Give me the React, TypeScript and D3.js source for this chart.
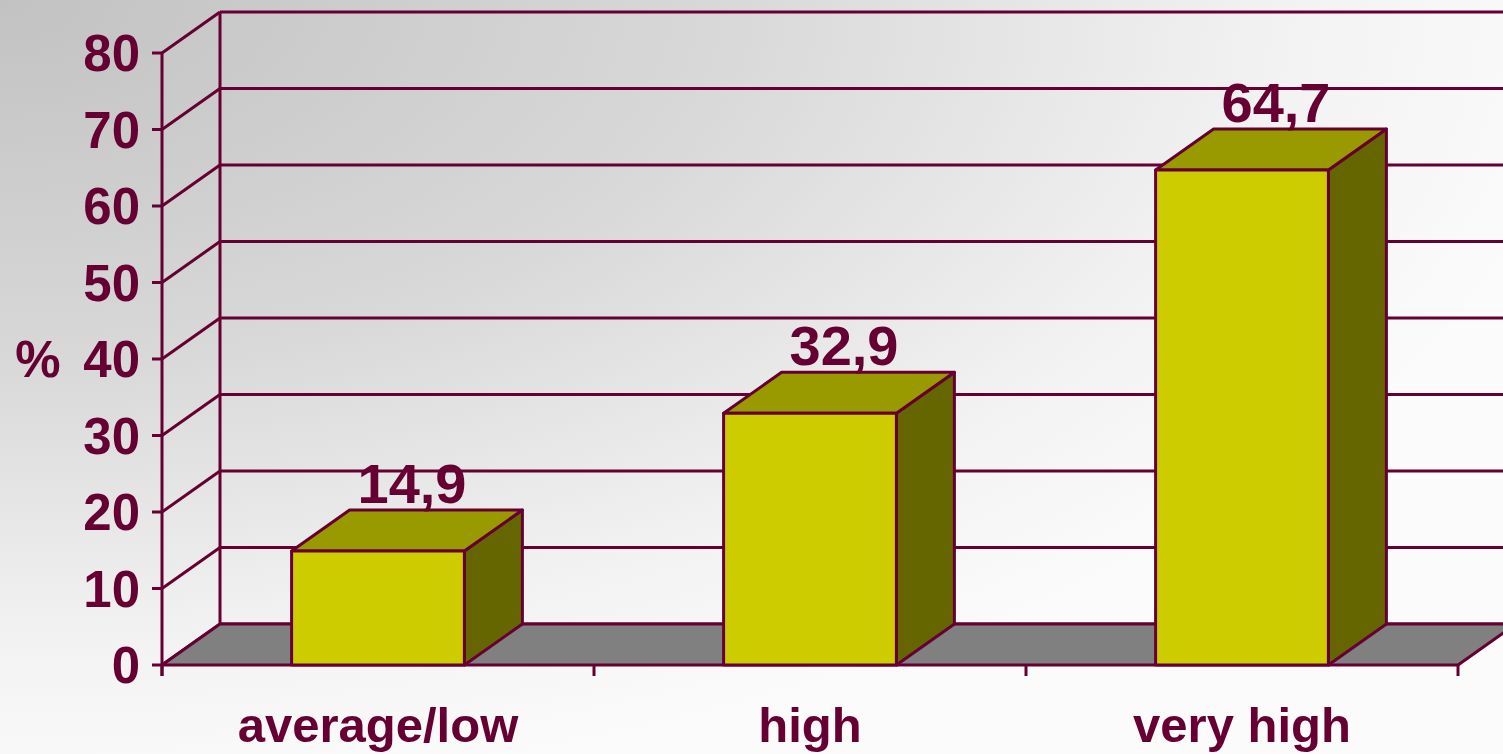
import React from "react";
import * as d3 from "d3";

const categories = ["average/low", "high", "very high"];
const values = [14.9, 32.9, 64.7];
const valueLabels = ["14,9", "32,9", "64,7"];
const yTicks = [0, 10, 20, 30, 40, 50, 60, 70, 80];

const W = 1503;
const H = 754;
const INK = "#660033";
const DX = 58;
const DY = 41;
const SW = 3;

export default function App() {
  const y = d3.scaleLinear().domain([0, 80]).range([665, 53]);
  const x = d3
    .scaleBand<string>()
    .domain(categories)
    .range([162, 1458])
    .paddingInner(0.6)
    .paddingOuter(0.3);
  const step = x.step();
  const x0 = 162;
  const x1 = 1458;
  const font = "'Liberation Sans', Arial, sans-serif";

  const boundaries = d3.range(categories.length + 1).map((i) => x0 + i * step);

  return (
    <div style={{ position: "fixed", left: 0, top: 0, width: W, height: H }}>
      <svg width={W} height={H} style={{ display: "block" }}>
        <defs>
          <radialGradient id="bg" cx="0" cy="0" r="1" gradientUnits="userSpaceOnUse"
            gradientTransform={`scale(1600 800)`}>
            <stop offset="0" stopColor="#c2c2c2" />
            <stop offset="0.45" stopColor="#d8d8d8" />
            <stop offset="0.8" stopColor="#f2f2f2" />
            <stop offset="1" stopColor="#fbfbfb" />
          </radialGradient>
        </defs>
        <rect x={0} y={0} width={W} height={H} fill="url(#bg)" />

        {/* back wall gridlines and side wall diagonals */}
        {yTicks.map((t) => (
          <g key={t}>
            <line x1={x0 + DX} x2={x1 + DX} y1={y(t) - DY} y2={y(t) - DY} stroke={INK} strokeWidth={SW} />
            <line x1={x0} x2={x0 + DX} y1={y(t)} y2={y(t) - DY} stroke={INK} strokeWidth={SW} />
            <line x1={x0 - 10} x2={x0} y1={y(t)} y2={y(t)} stroke={INK} strokeWidth={SW} />
            <text
              x={140}
              y={y(t)}
              dy="0.36em"
              textAnchor="end"
              fontFamily={font}
              fontWeight="bold"
              fontSize={51}
              fill={INK}
            >
              {t}
            </text>
          </g>
        ))}
        <line x1={x0 + DX} x2={x0 + DX} y1={y(80) - DY} y2={y(0) - DY} stroke={INK} strokeWidth={SW} />

        {/* floor */}
        <polygon
          points={[
            [x0, y(0)],
            [x1, y(0)],
            [x1 + DX, y(0) - DY],
            [x0 + DX, y(0) - DY],
          ]
            .map((p) => p.join(","))
            .join(" ")}
          fill="#808080"
          stroke={INK}
          strokeWidth={SW}
          strokeLinejoin="round"
        />

        {/* front y axis */}
        <line x1={x0} x2={x0} y1={y(80)} y2={y(0) + 11} stroke={INK} strokeWidth={SW} />
        {/* category ticks */}
        {boundaries.map((b, i) => (
          <line key={i} x1={b} x2={b} y1={y(0)} y2={y(0) + 11} stroke={INK} strokeWidth={SW} />
        ))}

        <text x={38} y={y(40)} dy="0.36em" textAnchor="middle" fontFamily={font} fontWeight="bold" fontSize={51} fill={INK}>
          %
        </text>

        {/* bars */}
        {categories.map((c, i) => {
          const bx = x(c)!;
          const bw = x.bandwidth();
          const top = y(values[i]);
          const base = y(0);
          const front = `${bx},${top} ${bx + bw},${top} ${bx + bw},${base} ${bx},${base}`;
          const topFace = `${bx},${top} ${bx + DX},${top - DY} ${bx + bw + DX},${top - DY} ${bx + bw},${top}`;
          const side = `${bx + bw},${top} ${bx + bw + DX},${top - DY} ${bx + bw + DX},${base - DY} ${bx + bw},${base}`;
          return (
            <g key={c}>
              <polygon points={side} fill="#666600" stroke={INK} strokeWidth={SW} strokeLinejoin="round" />
              <polygon points={topFace} fill="#999900" stroke={INK} strokeWidth={SW} strokeLinejoin="round" />
              <polygon points={front} fill="#cccc00" stroke={INK} strokeWidth={SW} strokeLinejoin="round" />
              <text
                x={bx + bw / 2 + DX / 2 + 5}
                y={top - DY - 7}
                textAnchor="middle"
                fontFamily={font}
                fontWeight="bold"
                fontSize={56}
                fill={INK}
              >
                {valueLabels[i]}
              </text>
              <text
                x={bx + bw / 2}
                y={742}
                textAnchor="middle"
                fontFamily={font}
                fontWeight="bold"
                fontSize={49}
                fill={INK}
              >
                {c}
              </text>
            </g>
          );
        })}
      </svg>
    </div>
  );
}
